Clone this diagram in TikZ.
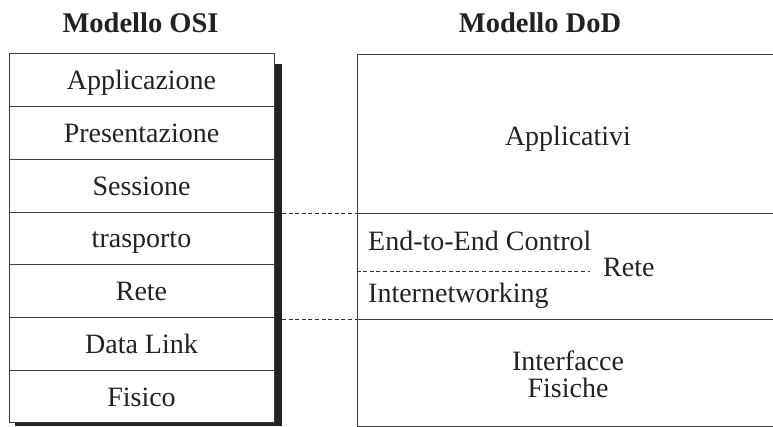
\documentclass[tikz,border=0pt]{standalone}
\usepackage{fontspec}
\setmainfont{Liberation Serif}
\begin{document}
\begin{tikzpicture}[x=1pt,y=-1pt,
  ink/.style={color={rgb,255:red,34;green,34;blue,34}},
  rowbox/.style={draw={rgb,255:red,60;green,60;blue,60}, line width=1pt, minimum width=265pt, minimum height=52.7pt, inner sep=0pt, text height=19pt, text depth=0pt, font=\fontsize{28}{32}\selectfont, text={rgb,255:red,34;green,34;blue,34}},
  dodbox/.style={draw={rgb,255:red,60;green,60;blue,60}, line width=1pt, inner sep=0pt},
  txt/.style={inner sep=0pt, anchor=base, font=\fontsize{28}{32}\selectfont, text={rgb,255:red,34;green,34;blue,34}},
  title/.style={inner sep=0pt, anchor=base, font=\fontsize{28.5}{32}\selectfont\bfseries, text={rgb,255:red,34;green,34;blue,34}},
  conn/.style={draw={rgb,255:red,50;green,50;blue,50}, line width=0.9pt, dash pattern=on 4pt off 2.6pt}]
\useasboundingbox (0,0) rectangle (773,427);
% titles
\node[title] (t1) at (140.5,33) {Modello OSI};
\node[title] (t2) at (540,33) {Modello DoD};
% shadow of the OSI stack
\fill[ink] (273,64) rectangle (282,426);
\fill[ink] (15,423) rectangle (282,426);
% OSI rows
\node[rowbox, fill=white] (app)  at (141.5,80.35) {Applicazione};
\node[rowbox, fill=white] (pres) at (141.5,133.05) {Presentazione};
\node[rowbox, fill=white] (sess) at (141.5,185.75) {Sessione};
\node[rowbox, fill=white] (tras) at (141.5,238.45) {trasporto};
\node[rowbox, fill=white] (rete) at (141.5,291.15) {Rete};
\node[rowbox, fill=white] (dl)   at (141.5,343.85) {Data Link};
\node[rowbox, fill=white] (fis)  at (141.5,396.55) {Fisico};
% DoD boxes
\node[dodbox, minimum width=417pt, minimum height=159pt, anchor=north west] (dapp) at (356.5,54.5) {};
\node[dodbox, minimum width=417pt, minimum height=106pt, anchor=north west] (dtr) at (356.5,213.5) {};
\node[dodbox, minimum width=417pt, minimum height=106pt, anchor=north west] (dphy) at (356.5,319.5) {};
\node[txt] (applic) at (568,146) {Applicativi};
\node[txt, anchor=base west] (e2e) at (368,251) {End-to-End Control};
\node[txt, anchor=base west] (inet) at (368,303) {Internetworking};
\node[txt, anchor=base west] (drete) at (603,277) {Rete};
\node[txt] (intf) at (568,370) {Interfacce};
\node[txt] (fisi) at (568,397) {Fisiche};
% connectors
\coordinate (c1) at (282,213.5);
\coordinate (c2) at (282,319.5);
\draw[conn] (c1) -- (dtr.north west);
\draw[conn] (c2) -- (dphy.north west);
\coordinate (m1) at (356.5,271);
\coordinate (m2) at (590,271);
\draw[conn] (m1) -- (m2);
\end{tikzpicture}
\end{document}
